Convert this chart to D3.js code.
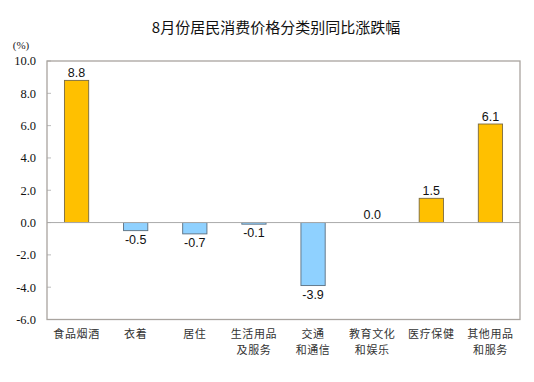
<!DOCTYPE html>
<html><head><meta charset="utf-8">
<script src="https://cdn.jsdelivr.net/npm/d3@7/dist/d3.min.js"></script>
<style>body{margin:0;background:#fff;}</style>
</head><body>
<svg id="c" width="534" height="382"></svg>
<script>
const categories = [["食品烟酒"],["衣着"],["居住"],["生活用品","及服务"],["交通","和通信"],["教育文化","和娱乐"],["医疗保健"],["其他用品","和服务"]];
const values = [8.8, -0.5, -0.7, -0.1, -3.9, 0.0, 1.5, 6.1];
const valueLabels = ["8.8","-0.5","-0.7","-0.1","-3.9","0.0","1.5","6.1"];
const yTicks = [10, 8, 6, 4, 2, 0, -2, -4, -6];
const title = "8月份居民消费价格分类别同比涨跌幅";
const unit = "(%)";

const svg = d3.select("#c");
const L = 47, R = 520, T = 61, B = 319.5;
const x = d3.scaleBand().domain(d3.range(values.length)).range([L, R]).paddingInner(0.59).paddingOuter(0.295);
const y = d3.scaleLinear().domain([-6, 10]).range([B, T]);

svg.append("text").attr("x", 276).attr("y", 33).attr("text-anchor","middle")
  .attr("font-family","'Noto Sans CJK SC'").attr("font-size",15).attr("fill","#111").text(title);
svg.append("text").attr("x", 21).attr("y", 49).attr("text-anchor","middle")
  .attr("font-family","'Liberation Serif'").attr("font-size",11).attr("fill","#222").text(unit);

// ticks
const ax = svg.append("g");
yTicks.forEach(t => {
  ax.append("text").attr("x", 36).attr("y", y(t)).attr("dy","0.35em").attr("text-anchor","end")
    .attr("font-family","'Liberation Serif'").attr("font-size",12.5).attr("fill","#111").text(t.toFixed(1));
  ax.append("line").attr("x1", L).attr("x2", L+4).attr("y1", y(t)).attr("y2", y(t)).attr("stroke","#bbb");
});

// bars
svg.append("g").selectAll("rect").data(values).join("rect")
  .attr("x",(d,i)=>x(i)).attr("width",x.bandwidth())
  .attr("y",d=>y(Math.max(0,d))).attr("height",d=>Math.abs(y(d)-y(0)))
  .attr("fill",d=>d>=0?"#FFC000":"#8FD1FF")
  .attr("stroke",d=>d>=0?"#7a6a40":"#5a6f80").attr("stroke-width",0.9);

// zero line
svg.append("line").attr("x1",L).attr("x2",R).attr("y1",y(0)).attr("y2",y(0)).attr("stroke","#aaa").attr("stroke-width",1);

// frame
svg.append("rect").attr("x",L).attr("y",T).attr("width",R-L).attr("height",B-T)
  .attr("fill","none").attr("stroke","#a9a49f").attr("stroke-width",1.3);

// value labels
svg.append("g").selectAll("text").data(values).join("text")
  .attr("x",(d,i)=>x(i)+x.bandwidth()/2)
  .attr("y",d=> d>0 ? y(d)-3 : (d<0 ? y(d)+13 : y(0)-4))
  .attr("text-anchor","middle").attr("font-family","'Liberation Sans'").attr("font-size",12.5).attr("fill","#111")
  .text((d,i)=>valueLabels[i]);

// category labels
const cg = svg.append("g");
categories.forEach((lines,i)=>{
  lines.forEach((s,j)=>{
    cg.append("text").attr("x",x(i)+x.bandwidth()/2).attr("y",338+j*16.2).attr("text-anchor","middle")
      .attr("font-family","'Noto Sans CJK SC'").attr("font-size",11).attr("letter-spacing",0.6).attr("fill","#333").text(s);
  });
});
</script>
</body></html>
